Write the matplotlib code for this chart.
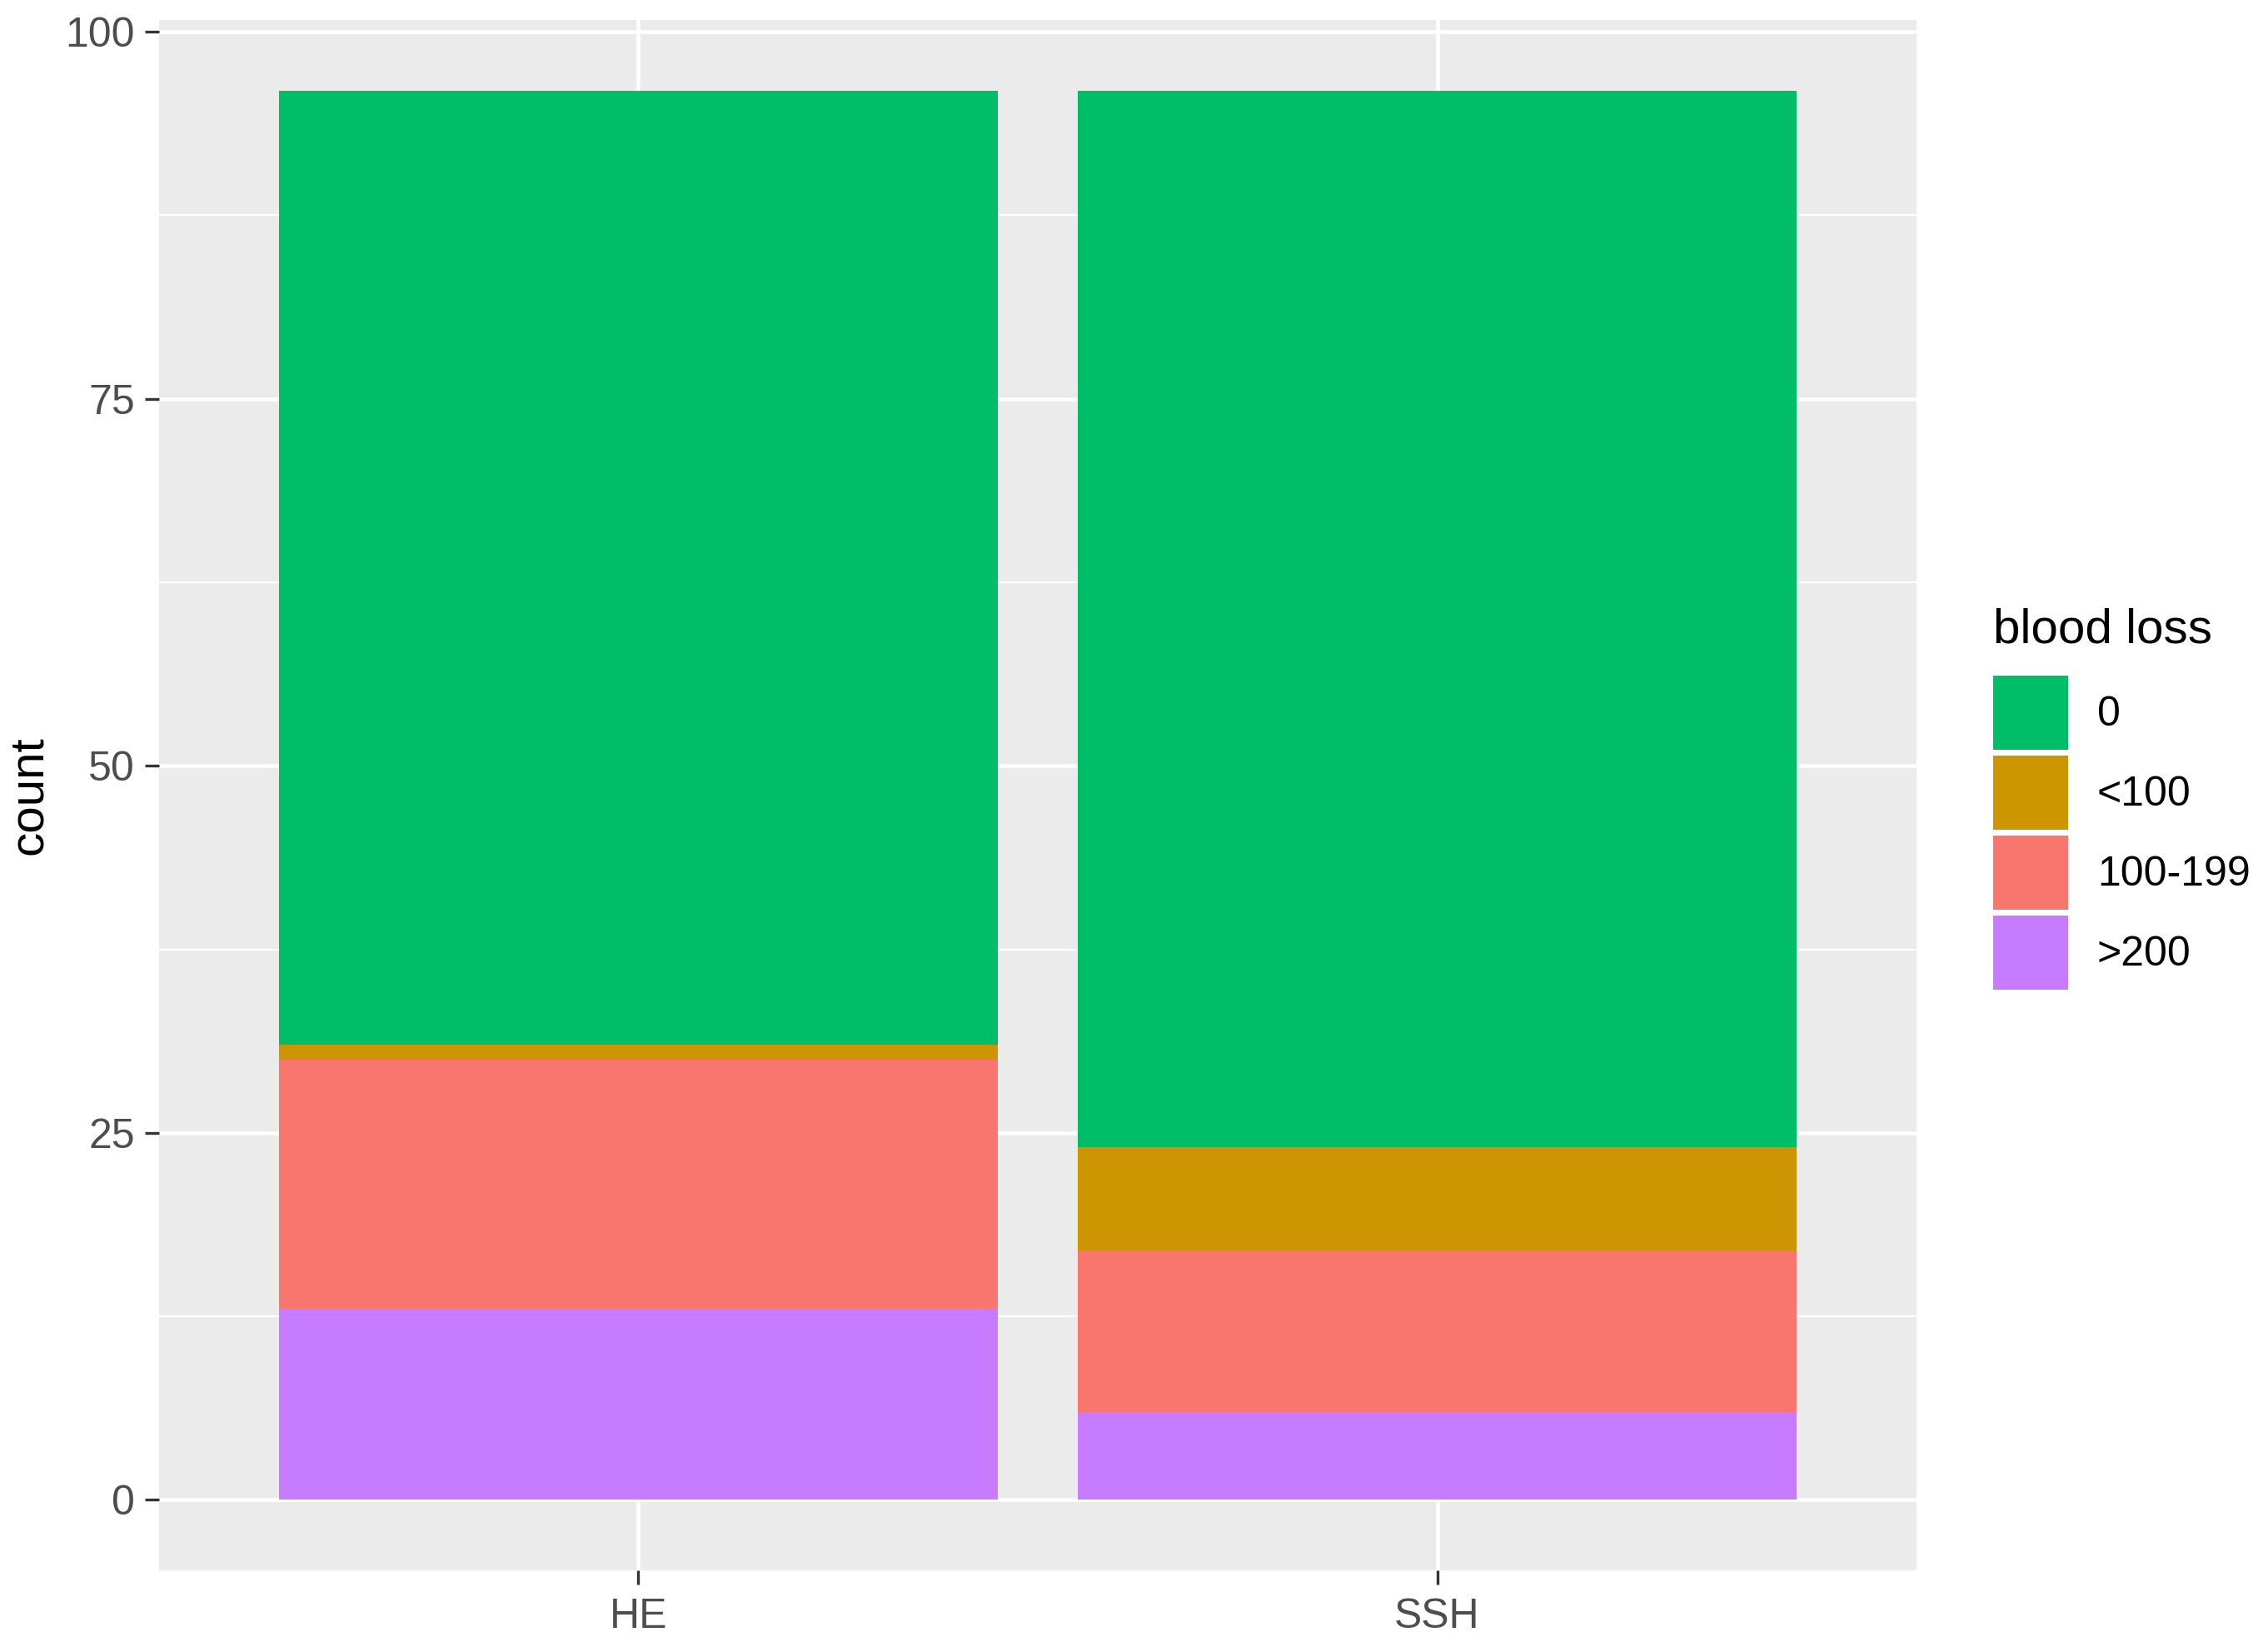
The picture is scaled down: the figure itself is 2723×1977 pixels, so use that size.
import matplotlib.pyplot as plt
from matplotlib.patches import Patch
import numpy as np

# counts per group, stacked bottom-to-top
groups = ["HE", "SSH"]
levels = ["0", "<100", "100-199", ">200"]
count_0 = [65, 72]
count_lt100 = [1, 7]
count_100_199 = [17, 11]
count_gt200 = [13, 6]
colors = {"0": "#00BE67", "<100": "#CD9600", "100-199": "#F8766D", ">200": "#C77CFF"}

plt.rcParams['font.family'] = ['Liberation Sans', 'DejaVu Sans']

fig = plt.figure(figsize=(2723 / 300, 1977 / 300), dpi=300)
ax = fig.add_axes([191 / 2723, 1 - 1885 / 1977, (2301 - 191) / 2723, (1885 - 24) / 1977])
ax.set_facecolor("#EBEBEB")

x = np.arange(1, len(groups) + 1)
stack = [(">200", count_gt200), ("100-199", count_100_199), ("<100", count_lt100), ("0", count_0)]
bottom = np.zeros(len(groups))
for name, vals in stack:
    ax.bar(x, vals, width=0.9, bottom=bottom, color=colors[name], zorder=3, linewidth=0)
    bottom += np.array(vals)

total = bottom.max()
ax.set_xlim(0.4, 2.6)
ax.set_ylim(-0.05 * total, total * 1.05)

ax.set_yticks([0, 25, 50, 75, 100])
ax.set_yticks([12.5, 37.5, 62.5, 87.5], minor=True)
ax.set_xticks(x)
ax.set_xticklabels(groups)
ax.grid(True, which="major", color="white", linewidth=1.1, zorder=1)
ax.grid(True, which="minor", axis="y", color="white", linewidth=0.55, zorder=1)
ax.tick_params(which="major", length=4, width=0.8, color="#333333", labelcolor="#4D4D4D",
               labelsize=12, pad=3)
ax.tick_params(axis="x", pad=4)
ax.tick_params(which="minor", length=0)
for s in ax.spines.values():
    s.set_visible(False)

ax.set_ylabel("count", fontsize=14, labelpad=4)

handles = [Patch(facecolor=colors[l], edgecolor="none") for l in levels]
leg = fig.legend(handles, levels, title="blood loss", loc="upper left",
                 bbox_to_anchor=(2393 / 2723, 1 - 730 / 1977), frameon=False,
                 fontsize=12, title_fontsize=14, handlelength=1.8, handleheight=2.35,
                 labelspacing=0.15, handletextpad=0.7, borderpad=0, borderaxespad=0)
leg._legend_box.align = "left"
leg._legend_box.sep = 6.5  # more room between title and keys

fig.savefig("out.png", dpi=300, facecolor="white")
